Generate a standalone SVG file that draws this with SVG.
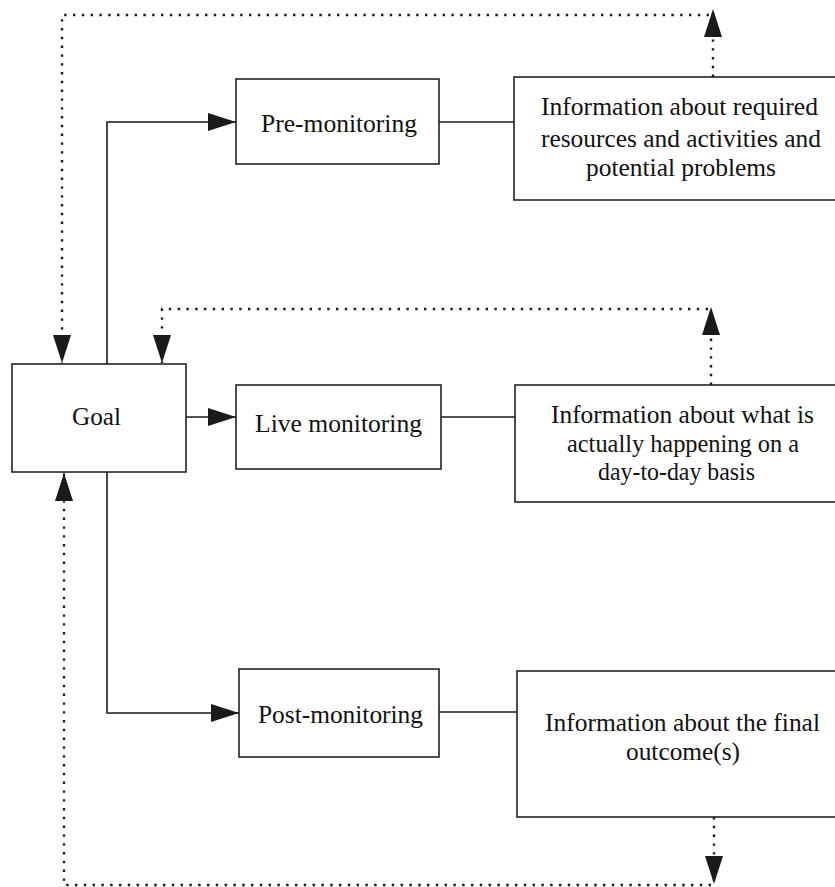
<svg xmlns="http://www.w3.org/2000/svg" width="835" height="887" viewBox="0 0 835 887">
  <style>
    .box { fill: #fff; stroke: #222; stroke-width: 1.6; }
    .lbl { font-family: "Liberation Serif", "Times New Roman", serif; font-size: 25px; fill: #111; }
    .solid { fill: none; stroke: #1a1a1a; stroke-width: 1.6; }
    .dotted { fill: none; stroke: #1a1a1a; stroke-width: 2.4; stroke-dasharray: 2.4 6.4; }
  </style>
  <defs>
    <marker id="head" viewBox="0 0 28 18" refX="28" refY="9" markerWidth="28" markerHeight="18" markerUnits="userSpaceOnUse" orient="auto">
      <path d="M0,0 L28,9 L0,18 Z" fill="#1a1a1a"/>
    </marker>
  </defs>
  <rect width="835" height="887" fill="#fff"/>

  <g id="connectors">
    <!-- goal to the three monitoring stages -->
    <path class="solid" d="M107,364 V122 H236" marker-end="url(#head)"/>
    <path class="solid" d="M186,417 H236" marker-end="url(#head)"/>
    <path class="solid" d="M107,472 V713 H239" marker-end="url(#head)"/>
    <!-- stages to information boxes -->
    <path class="solid" d="M439,122 H514"/>
    <path class="solid" d="M441,417 H515"/>
    <path class="solid" d="M439,712 H517"/>
    <!-- feedback loops (dotted) -->
    <path class="dotted" d="M713,77 V9" marker-end="url(#head)"/>
    <path class="dotted" d="M709,15 H62 V363" marker-end="url(#head)"/>
    <path class="dotted" d="M711,385 V307" marker-end="url(#head)"/>
    <path class="dotted" d="M708,309 H162 V363" marker-end="url(#head)"/>
    <path class="dotted" d="M714,817 V884" marker-end="url(#head)"/>
    <path class="dotted" d="M711,885 H64 V473" marker-end="url(#head)"/>
  </g>

  <g id="goal">
    <rect class="box" x="12" y="364" width="174" height="108"/>
    <text class="lbl" x="72" y="425" textLength="49" lengthAdjust="spacingAndGlyphs">Goal</text>
  </g>

  <g id="pre-monitoring">
    <rect class="box" x="236" y="79" width="203" height="85"/>
    <text class="lbl" x="261" y="132" textLength="156" lengthAdjust="spacingAndGlyphs">Pre-monitoring</text>
  </g>

  <g id="live-monitoring">
    <rect class="box" x="236" y="385" width="205" height="84"/>
    <text class="lbl" x="255" y="432" textLength="167" lengthAdjust="spacingAndGlyphs">Live monitoring</text>
  </g>

  <g id="post-monitoring">
    <rect class="box" x="239" y="669" width="200" height="88"/>
    <text class="lbl" x="258" y="723" textLength="165" lengthAdjust="spacingAndGlyphs">Post-monitoring</text>
  </g>

  <g id="info-pre">
    <rect class="box" x="514" y="77" width="340" height="123"/>
    <text class="lbl" x="541" y="115" textLength="277" lengthAdjust="spacingAndGlyphs">Information about required</text>
    <text class="lbl" x="541" y="147" textLength="280" lengthAdjust="spacingAndGlyphs">resources and activities and</text>
    <text class="lbl" x="586" y="176" textLength="190" lengthAdjust="spacingAndGlyphs">potential problems</text>
  </g>

  <g id="info-live">
    <rect class="box" x="515" y="385" width="340" height="117"/>
    <text class="lbl" x="551" y="423" textLength="263" lengthAdjust="spacingAndGlyphs">Information about what is</text>
    <text class="lbl" x="567" y="452" textLength="232" lengthAdjust="spacingAndGlyphs">actually happening on a</text>
    <text class="lbl" x="598" y="480" textLength="157" lengthAdjust="spacingAndGlyphs">day-to-day basis</text>
  </g>

  <g id="info-post">
    <rect class="box" x="517" y="671" width="340" height="146"/>
    <text class="lbl" x="545" y="731" textLength="275" lengthAdjust="spacingAndGlyphs">Information about the final</text>
    <text class="lbl" x="626" y="760" textLength="114" lengthAdjust="spacingAndGlyphs">outcome(s)</text>
  </g>
</svg>
